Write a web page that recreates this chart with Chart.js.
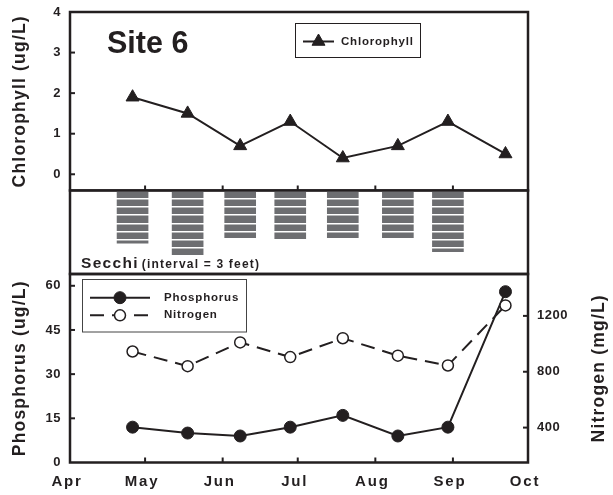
<!DOCTYPE html>
<html>
<head>
<meta charset="utf-8">
<title>Site 6</title>
<script src="https://cdn.jsdelivr.net/npm/chart.js@4.4.1/dist/chart.umd.min.js"></script>
<style>
  html, body { margin: 0; padding: 0; background: #fff; }
  #wrap { position: relative; width: 613px; height: 495px; }
  #wrap canvas { position: absolute; left: 0; top: 0; }
</style>
</head>
<body>
<div id="wrap">
  <canvas id="chlCanvas" width="613" height="495"></canvas>
  <canvas id="secchiCanvas" width="613" height="495"></canvas>
  <canvas id="nutCanvas" width="613" height="495"></canvas>
</div>
<script>
// sampling trips, as days after Apr 1
const sampleDay = [25, 47, 68, 88, 109, 131, 151, 174];
const chlorophyll = [1.9, 1.5, 0.7, 1.3, 0.4, 0.7, 1.3, 0.5];
const secchiFeet = [19.2, 23.5, 17.2, 17.8, 17.2, 17.2, 22.3]; // no reading on the last trip
const phosphorus = [12, 10, 9, 12, 16, 9, 12, 58];
const nitrogen = [945, 840, 1010, 905, 1040, 915, 845, 1275];

const monthDay = [0, 30, 61, 91, 122, 153, 183];
const monthLabels = ['Apr', 'May', 'Jun', 'Jul', 'Aug', 'Sep', 'Oct'];
const chlTicks = [0, 1, 2, 3, 4];
const phosTicks = [0, 15, 30, 45, 60];
const nitroTicks = [400, 800, 1200];
const secchiInterval = 3;

const INK = '#231f20';
const FONT = "'Liberation Sans', Arial, sans-serif";
const H = 495, LEFT_W = 70, RIGHT_W = 85;
// panel edges (y px)
const CHL_TOP = 12, CHL_BOTTOM = 190.5, SECCHI_BOTTOM = 274, NUT_BOTTOM = 462.5;

function pts(ys) { return ys.map((y, i) => ({ x: sampleDay[i], y: y })); }
function asTicks(vals) { return vals.map(v => ({ value: v })); }
function noPad(s) { s.paddingTop = 0; s.paddingBottom = 0; s.paddingLeft = 0; s.paddingRight = 0; }

function text(ctx, str, x, y, size, spacing, align, baseline) {
  ctx.save();
  ctx.font = 'bold ' + size + 'px ' + FONT;
  ctx.letterSpacing = spacing + 'px';
  ctx.fillStyle = INK;
  ctx.textAlign = align || 'left';
  ctx.textBaseline = baseline || 'alphabetic';
  ctx.fillText(str, x, y);
  ctx.restore();
}

function marker(ctx, ds, x, y) {
  const r = ds.pointRadius;
  ctx.save();
  ctx.fillStyle = ds.pointBackgroundColor;
  ctx.strokeStyle = ds.pointBorderColor;
  ctx.lineWidth = ds.pointBorderWidth;
  ctx.beginPath();
  if (ds.pointStyle === 'triangle') {
    let a = 0;
    ctx.moveTo(x + Math.sin(a) * r, y - Math.cos(a) * r);
    a += 2 * Math.PI / 3; ctx.lineTo(x + Math.sin(a) * r, y - Math.cos(a) * r);
    a += 2 * Math.PI / 3; ctx.lineTo(x + Math.sin(a) * r, y - Math.cos(a) * r);
    ctx.closePath();
  } else {
    ctx.arc(x, y, r, 0, Math.PI * 2);
  }
  ctx.fill();
  ctx.stroke();
  ctx.restore();
}

function legendRow(ctx, ds, x1, x2, y, tx) {
  ctx.save();
  ctx.strokeStyle = ds.borderColor;
  ctx.lineWidth = ds.borderWidth;
  ctx.setLineDash(ds.borderDash || []);
  ctx.beginPath(); ctx.moveTo(x1, y); ctx.lineTo(x2, y); ctx.stroke();
  ctx.restore();
  marker(ctx, ds, (x1 + x2) / 2, y);
  text(ctx, ds.label, tx, y, 11.5, 0.8, 'left', 'middle');
}

function box(ctx, x, y, w, h, color) {
  ctx.save();
  ctx.strokeStyle = color;
  ctx.lineWidth = 1;
  ctx.strokeRect(x + 0.5, y + 0.5, w, h);
  ctx.restore();
}

// frame round the plot area plus short inward tick marks
const framePlugin = {
  id: 'frame',
  afterDraw(chart, args, opts) {
    const ctx = chart.ctx, a = chart.chartArea;
    ctx.save();
    ctx.strokeStyle = INK;
    ctx.lineWidth = 2;
    (opts.marks || []).forEach(m => {
      const s = chart.scales[m.scale];
      m.values.forEach(v => {
        const p = s.getPixelForValue(v);
        ctx.beginPath();
        if (m.side === 'left') { ctx.moveTo(a.left, p); ctx.lineTo(a.left + 5, p); }
        else if (m.side === 'right') { ctx.moveTo(a.right, p); ctx.lineTo(a.right - 5, p); }
        else { ctx.moveTo(p, a.bottom); ctx.lineTo(p, a.bottom - 5); }
        ctx.stroke();
      });
    });
    ctx.lineWidth = 2.5;
    ctx.strokeRect(a.left, a.top, a.right - a.left, a.bottom - a.top);
    ctx.restore();
  }
};

// letter spacing for axis labels and titles
const spacingPlugin = {
  id: 'spacing',
  beforeDraw(chart, args, opts) {
    Object.values(chart.scales).forEach(s => {
      if (s._spaced) return;
      s._spaced = true;
      const sp = opts[s.id] || {};
      const lab = s.drawLabels, tit = s.drawTitle;
      s.drawLabels = function (area) {
        this.ctx.save(); this.ctx.letterSpacing = (sp.labels || 0) + 'px';
        lab.call(this, area); this.ctx.restore();
      };
      s.drawTitle = function () {
        this.ctx.save(); this.ctx.letterSpacing = (sp.title || 0) + 'px';
        tit.call(this); this.ctx.restore();
      };
    });
  }
};

function dayAxis(show) {
  return {
    type: 'linear', min: 0, max: 183, display: show, offset: false,
    afterBuildTicks: s => { s.ticks = asTicks(monthDay); },
    afterFit: s => { noPad(s); if (show) s.height = H - NUT_BOTTOM; },
    ticks: {
      autoSkip: false, maxRotation: 0, padding: 10, labelOffset: -3, color: INK,
      font: { family: FONT, size: 15, weight: 'bold' },
      callback: v => monthLabels[monthDay.indexOf(v)]
    },
    grid: { display: false, drawTicks: false },
    border: { display: false }
  };
}

function sideAxis(min, max, ticks, width, pos) {
  return {
    position: pos, min: min, max: max,
    afterBuildTicks: s => { s.ticks = asTicks(ticks); },
    afterFit: s => { noPad(s); s.width = width; },
    ticks: {
      padding: 9, color: INK, font: { family: FONT, size: 13, weight: 'bold' },
      callback: v => String(v)
    },
    grid: { display: false, drawTicks: false },
    border: { display: false }
  };
}

function leftAxis(min, max, ticks, title) {
  const ax = sideAxis(min, max, ticks, LEFT_W, 'left');
  ax.title = {
    display: true, text: title, color: INK, padding: { top: 10, bottom: 0 },
    font: { family: FONT, size: 17.5, weight: 'bold' }
  };
  return ax;
}

const baseOptions = {
  responsive: false, animation: false, events: []
};

// ---- chlorophyll panel ----
new Chart(document.getElementById('chlCanvas'), {
  type: 'line',
  data: {
    datasets: [{
      label: 'Chlorophyll', data: pts(chlorophyll),
      borderColor: INK, borderWidth: 2, tension: 0,
      pointStyle: 'triangle', pointRadius: 7.5,
      pointBackgroundColor: INK, pointBorderColor: INK, pointBorderWidth: 1
    }]
  },
  options: Object.assign({}, baseOptions, {
    layout: { padding: { top: CHL_TOP, bottom: H - CHL_BOTTOM, left: 0, right: RIGHT_W } },
    scales: {
      x: dayAxis(false),
      y: leftAxis(-0.4, 4, chlTicks, 'Chlorophyll (ug/L)')
    },
    plugins: {
      legend: { display: false }, tooltip: { enabled: false },
      spacing: { y: { labels: 0.5, title: 1.2 } },
      frame: { marks: [
        { scale: 'y', side: 'left', values: chlTicks.slice(0, -1) },
        { scale: 'x', side: 'bottom', values: monthDay.slice(1, -1) }
      ] }
    }
  }),
  plugins: [spacingPlugin, framePlugin, {
    id: 'chlExtras',
    afterDraw(chart) {
      const ctx = chart.ctx, a = chart.chartArea;
      text(ctx, 'Site 6', a.left + 37, a.top + 41, 30.5, 0);
      box(ctx, a.left + 225, a.top + 11, 125, 34, INK);
      legendRow(ctx, chart.data.datasets[0], a.left + 233, a.left + 264, a.top + 29.5, a.left + 271);
    }
  }]
});

// ---- Secchi panel ----
new Chart(document.getElementById('secchiCanvas'), {
  type: 'bar',
  data: {
    datasets: [{
      label: 'Secchi', data: pts(secchiFeet),
      backgroundColor: '#6d6e71', borderWidth: 0, barThickness: 31
    }]
  },
  options: Object.assign({}, baseOptions, {
    layout: { padding: { top: CHL_BOTTOM, bottom: H - SECCHI_BOTTOM, left: 0, right: RIGHT_W } },
    scales: {
      x: dayAxis(false),
      y: {
        reverse: true, min: 0, max: 30.5,
        ticks: { display: false, stepSize: secchiInterval },
        afterBuildTicks: s => { s.ticks = s.ticks.filter(t => t.value % secchiInterval === 0); },
        afterFit: s => { noPad(s); s.width = LEFT_W; },
        grid: { color: '#ffffff', lineWidth: 1.5, z: 1, drawTicks: false },
        border: { display: false }
      }
    },
    plugins: {
      legend: { display: false }, tooltip: { enabled: false },
      frame: { marks: [] }
    }
  }),
  plugins: [framePlugin, {
    id: 'secchiExtras',
    afterDraw(chart) {
      const ctx = chart.ctx, a = chart.chartArea;
      text(ctx, 'Secchi', a.left + 11, a.bottom - 5.7, 15.5, 1.3);
      text(ctx, '(interval = 3 feet)', a.left + 71.7, a.bottom - 5.7, 12, 1.2);
    }
  }]
});

// ---- phosphorus / nitrogen panel ----
new Chart(document.getElementById('nutCanvas'), {
  type: 'line',
  data: {
    datasets: [{
      label: 'Phosphorus', data: pts(phosphorus), yAxisID: 'y', order: 1,
      borderColor: INK, borderWidth: 2, tension: 0,
      pointStyle: 'circle', pointRadius: 6,
      pointBackgroundColor: INK, pointBorderColor: INK, pointBorderWidth: 1
    }, {
      label: 'Nitrogen', data: pts(nitrogen), yAxisID: 'y2', order: 0,
      borderColor: INK, borderWidth: 2, borderDash: [14, 8], tension: 0,
      pointStyle: 'circle', pointRadius: 5.5,
      pointBackgroundColor: '#ffffff', pointBorderColor: INK, pointBorderWidth: 1.5
    }]
  },
  options: Object.assign({}, baseOptions, {
    layout: { padding: { top: SECCHI_BOTTOM, bottom: 0, left: 0, right: 0 } },
    scales: {
      x: dayAxis(true),
      y: leftAxis(0, 64, phosTicks, 'Phosphorus (ug/L)'),
      y2: sideAxis(150, 1500, nitroTicks, RIGHT_W, 'right')
    },
    plugins: {
      legend: { display: false }, tooltip: { enabled: false },
      spacing: { x: { labels: 1.8 }, y: { labels: 0.5, title: 1.2 }, y2: { labels: 0.5 } },
      frame: { marks: [
        { scale: 'y', side: 'left', values: phosTicks.slice(1) },
        { scale: 'y2', side: 'right', values: nitroTicks },
        { scale: 'x', side: 'bottom', values: monthDay.slice(1, -1) }
      ] }
    }
  }),
  plugins: [spacingPlugin, framePlugin, {
    id: 'nutExtras',
    afterDraw(chart) {
      const ctx = chart.ctx, a = chart.chartArea;
      const ds = chart.data.datasets;
      box(ctx, a.left + 12, a.top + 5, 164, 52.5, '#444');
      legendRow(ctx, ds[0], a.left + 20, a.left + 80, a.top + 23.7, a.left + 94);
      legendRow(ctx, ds[1], a.left + 20, a.left + 80, a.top + 41.3, a.left + 94);
      // right-hand axis title, reading bottom to top like the left one
      ctx.save();
      ctx.translate(a.right + 71, (a.top + a.bottom) / 2);
      ctx.rotate(-Math.PI / 2);
      text(ctx, 'Nitrogen (mg/L)', 0, 0, 17.5, 1.2, 'center', 'middle');
      ctx.restore();
    }
  }]
});
</script>
</body>
</html>
